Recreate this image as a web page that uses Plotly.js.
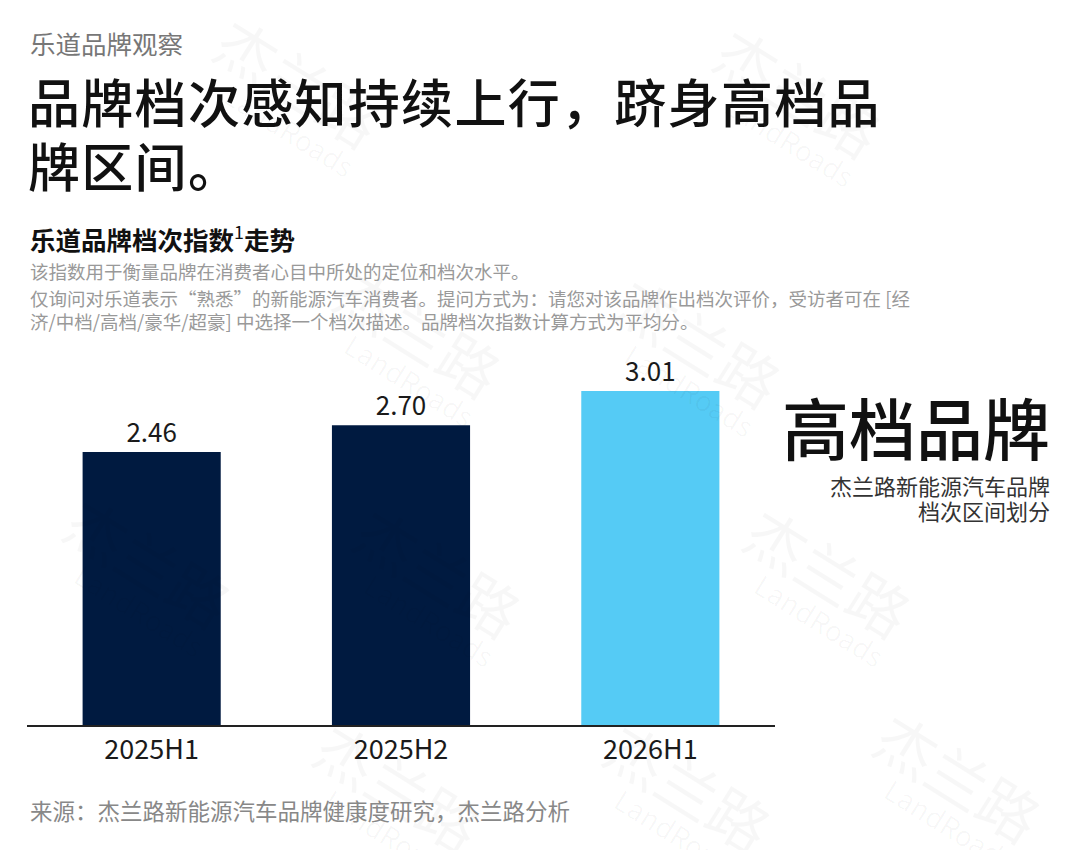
<!DOCTYPE html>
<html>
<head>
<meta charset="utf-8">
<script src="https://cdn.plot.ly/plotly-3.0.1.min.js"></script>
<style>
html,body{margin:0;padding:0;background:#fff;}
#chart{width:1080px;height:850px;}
g.annotation.title-line text{letter-spacing:1.3px;}
</style>
</head>
<body>
<div id="chart"></div>
<script>
const categories = ["2025H1", "2025H2", "2026H1"];
const indexValues = [2.46, 2.70, 3.01];
const valueLabels = ["2.46", "2.70", "3.01"];
const barColors = ["#001a40", "#001a40", "#55cbf5"];

const FONT = "Noto Sans CJK SC, Noto Sans, sans-serif";

const trace = {
  type: "bar",
  x: categories,
  y: indexValues,
  text: valueLabels,
  textposition: "outside",
  cliponaxis: false,
  textfont: {family: FONT, size: 26, color: "#1a1a1a"},
  marker: {color: barColors, line: {width: 0}},
  hoverinfo: "skip"
};

const L = 27, R = 305, T = 345, B = 125, W = 1080, H = 850;
const pw = W - L - R, ph = H - T - B;
function px(x) { return (x - L) / pw; }
function py(y) { return (H - B - y) / ph; }

function txt(text, x, y, size, color, opts, weight) {
  const f = {family: FONT, size: size, color: color};
  if (weight) f.weight = weight;
  return Object.assign({
    text: text, x: px(x), y: py(y), xref: "paper", yref: "paper",
    xanchor: "left", yanchor: "middle", align: "left", showarrow: false, font: f
  }, opts || {});
}

const annotations = [];
// faint watermarks
const wmPos = [
  [300, 80], [800, 90], [420, 330], [700, 340],
  [150, 560], [440, 570], [830, 570],
  [400, 785], [690, 785], [960, 775]
];
wmPos.forEach(p => {
  annotations.push({
    text: "杰兰路", x: px(p[0]), y: py(p[1]), xref: "paper", yref: "paper",
    showarrow: false, textangle: 32, xanchor: "center", yanchor: "middle",
    font: {family: FONT, size: 60, color: "rgba(0,0,0,0.03)"}
  });
  annotations.push({
    text: "LandRoads", x: px(p[0] - 10), y: py(p[1] + 50), xref: "paper", yref: "paper",
    showarrow: false, textangle: 32, xanchor: "center", yanchor: "middle",
    font: {family: FONT, size: 28, color: "rgba(0,0,0,0.03)"}
  });
});

const titleStart = annotations.length;
annotations.push(txt("品牌档次感知持续上行，跻身高档品", 26, 100, 52, "#111111", null, 500));
annotations.push(txt("牌区间。", 26, 164, 52, "#111111", null, 500));
annotations.push(txt("乐道品牌观察", 28, 42, 25.5, "#777777"));
annotations.push(txt("<b>乐道品牌档次指数</b><sup style='font-size:60%'>1</sup><b>走势</b>", 28, 238, 25.5, "#111111"));
annotations.push(txt("该指数用于衡量品牌在消费者心目中所处的定位和档次水平。", 28, 271, 18.5, "#999999"));
annotations.push(txt("仅询问对乐道表示“熟悉”的新能源汽车消费者。提问方式为：请您对该品牌作出档次评价，受访者可在 [经", 28, 298, 18.5, "#999999"));
annotations.push(txt("济/中档/高档/豪华/超豪] 中选择一个档次描述。品牌档次指数计算方式为平均分。", 28, 321, 18.5, "#999999"));
annotations.push(txt("高档品牌", 1052, 425, 67, "#111111", {xanchor: "right", align: "right"}, 500));
annotations.push(txt("杰兰路新能源汽车品牌", 1052, 485, 22, "#333333", {xanchor: "right", align: "right"}));
annotations.push(txt("档次区间划分", 1052, 510, 22, "#333333", {xanchor: "right", align: "right"}));
annotations.push(txt("来源：杰兰路新能源汽车品牌健康度研究，杰兰路分析", 28, 810, 22.5, "#888888"));

const layout = {
  width: W, height: H,
  margin: {l: L, r: R, t: T, b: B, pad: 0},
  paper_bgcolor: "#ffffff",
  plot_bgcolor: "rgba(0,0,0,0)",
  showlegend: false,
  bargap: 0.446,
  xaxis: {
    type: "category",
    showgrid: false, zeroline: false,
    showline: true, linecolor: "#222222", linewidth: 1.5,
    ticks: "", ticklen: 0,
    tickfont: {family: FONT, size: 27, color: "#1a1a1a"},
    fixedrange: true
  },
  yaxis: {
    range: [0, 380 / 111],
    showgrid: false, zeroline: false, showline: false,
    showticklabels: false, ticks: "",
    fixedrange: true
  },
  annotations: annotations
};

Plotly.newPlot("chart", [trace], layout, {displayModeBar: false, staticPlot: true}).then(gd => {
  gd.querySelectorAll("g.annotation").forEach(g => {
    const idx = +g.getAttribute("data-index");
    if (idx === titleStart || idx === titleStart + 1) g.classList.add("title-line");
  });
});
</script>
</body>
</html>
